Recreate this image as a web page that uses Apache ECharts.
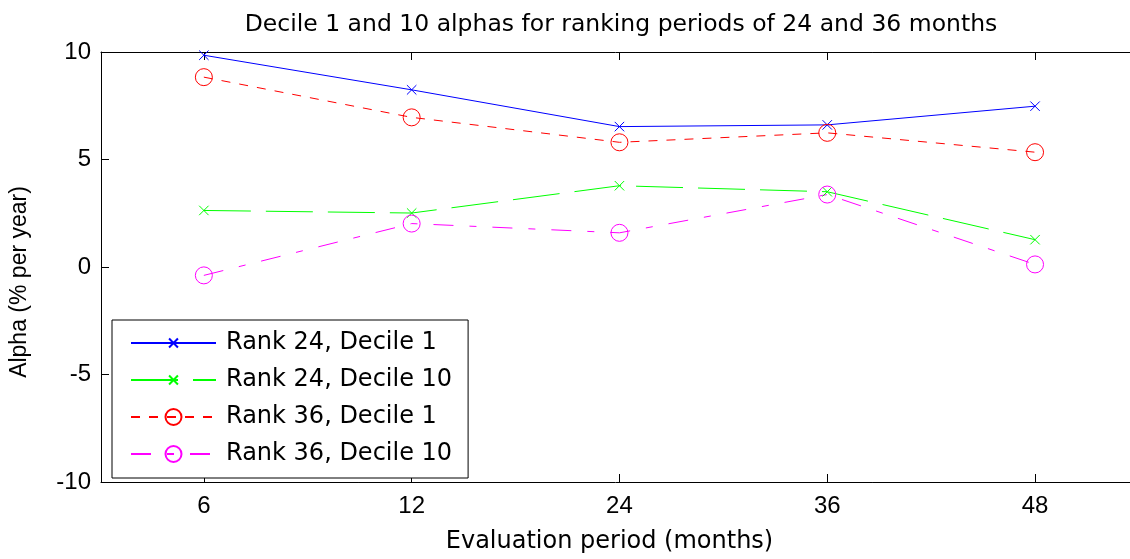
<!DOCTYPE html>
<html>
<head>
<meta charset="utf-8">
<script src="https://cdn.jsdelivr.net/npm/echarts@6/dist/echarts.min.js"></script>
<style>html,body{margin:0;padding:0;background:#fff;}#c{width:1130px;height:559px;}</style>
</head>
<body>
<div id="c"></div>
<script>
const categories = ['6', '12', '24', '36', '48'];
const rank24dec1 = [9.85, 8.24, 6.53, 6.61, 7.48];
const rank24dec10 = [2.63, 2.51, 3.78, 3.50, 1.27];
const rank36dec1 = [8.83, 6.96, 5.80, 6.24, 5.34];
const rank36dec10 = [-0.39, 2.02, 1.59, 3.37, 0.12];
const yTicks = [-10, -5, 0, 5, 10];

const FONT = '"Liberation Sans", Arial, sans-serif';
const WFONT = '"DejaVu Sans", sans-serif';
// X marker with padded bounding box so it draws smaller than circles at equal size
const XMARK = 'path://M-4,-4M14,14M0,0L10,10M10,0L0,10';
const catPos = categories.map((c, i) => i + 1);
const toPairs = arr => arr.map((v, i) => [catPos[i], v]);

function xSeries(name, data, color, dash) {
  return {
    name, type: 'line', data: toPairs(data),
    symbol: XMARK, symbolSize: 17, showSymbol: true,
    lineStyle: { color, width: 1, type: dash },
    itemStyle: { color: 'rgba(0,0,0,0)', borderColor: color, borderWidth: 1 },
    emphasis: { disabled: true }, animation: false
  };
}
function oSeries(name, data, color, dash) {
  return {
    name, type: 'line', data: toPairs(data),
    symbol: 'circle', symbolSize: 17, showSymbol: true,
    lineStyle: { color, width: 1, type: dash },
    itemStyle: { color: 'rgba(0,0,0,0)', borderColor: color, borderWidth: 1 },
    emphasis: { disabled: true }, animation: false
  };
}

const axisX = (pos) => ({
  type: 'value', min: 0.505, max: 5.457, position: pos,
  axisLine: { show: true, onZero: false, lineStyle: { color: '#000', width: 1 } },
  axisTick: { show: true, inside: true, length: 8, customValues: catPos, lineStyle: { color: '#000' } },
  axisLabel: {
    show: pos === 'bottom', customValues: catPos,
    formatter: v => categories[Math.round(v) - 1],
    fontFamily: FONT, fontSize: 24, color: '#000', margin: 12
  },
  splitLine: { show: false }
});

const chart = echarts.init(document.getElementById('c'), null, { renderer: 'canvas' });
chart.setOption({
  backgroundColor: '#fff',
  animation: false,
  textStyle: { fontFamily: FONT },
  title: {
    text: 'Decile 1 and 10 alphas for ranking periods of 24 and 36 months',
    left: 616, top: 8, textAlign: 'center',
    textStyle: { fontFamily: WFONT, fontSize: 23.5, fontWeight: 'normal', color: '#000' }
  },
  grid: { left: 101, top: 52, right: 0, height: 436, containLabel: false },
  legend: {
    orient: 'vertical', left: 112, top: 320,
    backgroundColor: '#fff', borderColor: '#000', borderWidth: 1, borderRadius: 0,
    padding: [11, 16, 12, 18],
    itemWidth: 85, itemHeight: 20, itemGap: 13,
    textStyle: { fontFamily: WFONT, fontSize: 24, color: '#000', lineHeight: 22, padding: [0, 0, 0, 5] },
    data: ['Rank 24, Decile 1', 'Rank 24, Decile 10', 'Rank 36, Decile 1', 'Rank 36, Decile 10']
  },
  xAxis: [
    Object.assign(axisX('bottom'), {
      name: 'Evaluation period (months)', nameLocation: 'middle', nameGap: 48,
      nameTextStyle: { fontFamily: WFONT, fontSize: 24, color: '#000', padding: [0, 12, 0, 0] }
    }),
    axisX('top')
  ],
  yAxis: [{
    type: 'value', min: yTicks[0], max: yTicks[yTicks.length - 1], interval: 5,
    axisLine: { show: true, lineStyle: { color: '#000', width: 1 } },
    axisTick: { show: true, inside: true, length: 8, lineStyle: { color: '#000' } },
    axisLabel: { fontFamily: FONT, fontSize: 24, color: '#000', margin: 10 },
    splitLine: { show: false },
    name: 'Alpha (% per year)', nameLocation: 'middle', nameGap: 70, nameRotate: 90,
    nameTextStyle: { fontFamily: FONT, fontSize: 23, color: '#000', padding: [0, 30, 0, 0] }
  }],
  series: [
    xSeries('Rank 24, Decile 1', rank24dec1, '#0000ff', 'solid'),
    xSeries('Rank 24, Decile 10', rank24dec10, '#00ff00', [47, 15]),
    oSeries('Rank 36, Decile 1', rank36dec1, '#ff0000', [9, 9]),
    oSeries('Rank 36, Decile 10', rank36dec10, '#ff00ff', [20, 16, 7, 16])
  ]
});
</script>
</body>
</html>
